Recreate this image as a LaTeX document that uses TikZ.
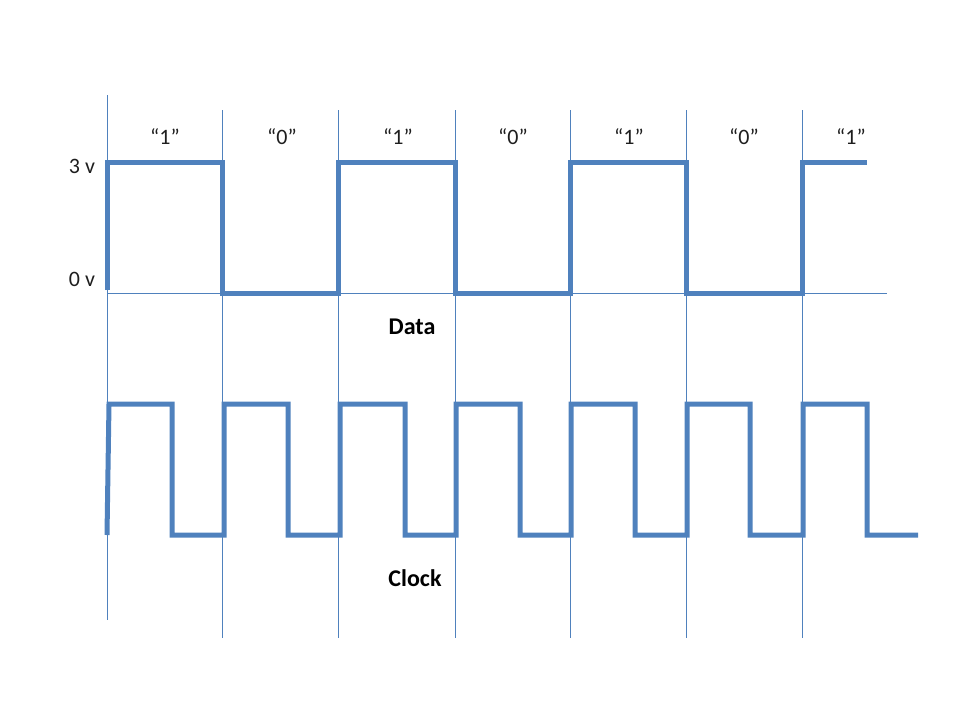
\documentclass[tikz,border=0pt]{standalone}
\usepackage{fontspec}
\setmainfont{Carlito}
\begin{document}
\begin{tikzpicture}[x=1pt,y=-1pt,
  grid/.style={line width=0.8pt, color={rgb,255:red,79;green,129;blue,189}},
  sig/.style={line width=5pt, color={rgb,255:red,79;green,129;blue,189}, line join=miter},
  lbl/.style={font=\fontsize{22}{26}\selectfont, text={rgb,255:red,30;green,30;blue,30}},
  ttl/.style={font=\bfseries\fontsize{24}{28}\selectfont}]
\useasboundingbox (0,0) rectangle (960,720);
\draw[grid] (107,95) -- (107,620);
\foreach \x in {222,338,455,570,686,802} \draw[grid] (\x,110) -- (\x,638);
\draw[grid] (107,293) -- (887,293);
\foreach \x/\t [count=\i] in {165/1,282/0,398/1,513/0,629/1,744/0,851/1}
  \node[lbl] (b\i) at (\x,137) {“\t”};
\node[lbl] (v3) at (82,166) {3 v};
\node[lbl] (v0) at (82,279) {0 v};
\node[ttl] (data) at (412,327) {Data};
\node[ttl] (clk) at (415,578) {Clock};
\draw[sig] (107,290) -- (107,162) -- (222,162) -- (222,293) -- (338,293) -- (338,162) -- (455,162) -- (455,293) -- (570,293) -- (570,162) -- (686,162) -- (686,293) -- (802,293) -- (802,162) -- (867,162);
\draw[sig] (107,535) -- (109,404) -- (172,404) -- (172,535) -- (224,535) -- (224,404) -- (288,404) -- (288,535) -- (340,535) -- (340,404) -- (405,404) -- (405,535) -- (456,535) -- (456,404) -- (520,404) -- (520,535) -- (571,535) -- (571,404) -- (635,404) -- (635,535) -- (687,535) -- (687,404) -- (750,404) -- (750,535) -- (803,535) -- (803,404) -- (867,404) -- (867,535) -- (918,535);
\end{tikzpicture}
\end{document}
